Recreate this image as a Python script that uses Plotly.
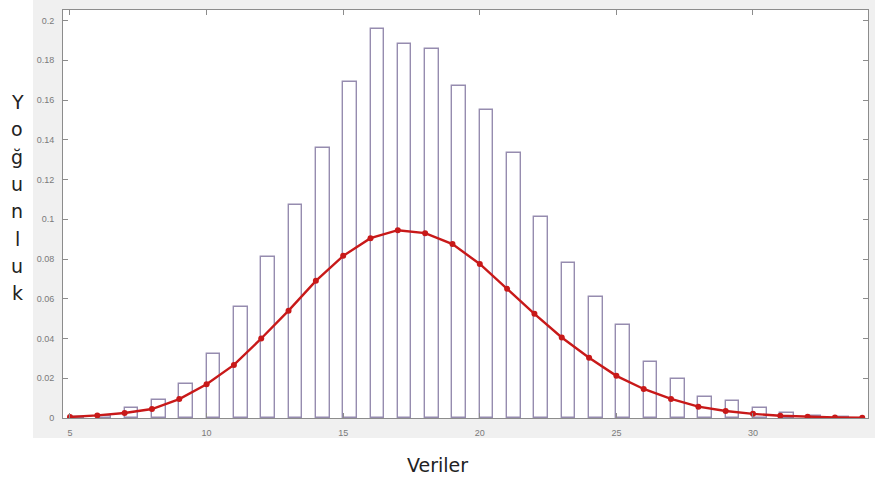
import plotly.graph_objects as go

# ---- data ----
bin_centers = [5.25, 6.25, 7.25, 8.25, 9.25, 10.25, 11.25, 12.25, 13.25, 14.25,
               15.25, 16.25, 17.25, 18.25, 19.25, 20.25, 21.25, 22.25, 23.25, 24.25,
               25.25, 26.25, 27.25, 28.25, 29.25, 30.25, 31.25, 32.25, 33.25]
bar_density = [0.0003, 0.0008, 0.005, 0.009, 0.017, 0.032, 0.056, 0.081, 0.107, 0.136,
               0.169, 0.1955, 0.188, 0.1855, 0.167, 0.155, 0.1335, 0.101, 0.078, 0.061,
               0.047, 0.028, 0.0196, 0.0106, 0.0086, 0.005, 0.0025, 0.0012, 0.0005]

curve_x = [5, 6, 7, 8, 9, 10, 11, 12, 13, 14, 15, 16, 17, 18, 19, 20, 21, 22, 23, 24,
           25, 26, 27, 28, 29, 30, 31, 32, 33, 34]
curve_y = [0.0005, 0.0013, 0.0025, 0.0045, 0.0095, 0.017, 0.0267, 0.040, 0.054, 0.069,
           0.0816, 0.0905, 0.0945, 0.093, 0.0875, 0.0775, 0.065, 0.0524, 0.0405, 0.0303,
           0.0212, 0.0146, 0.0096, 0.0057, 0.0035, 0.0021, 0.0011, 0.0006, 0.0003, 0.0001]

x_tick_vals = [5, 10, 15, 20, 25, 30]
x_tick_text = ["5", "10", "15", "20", "25", "30"]
y_tick_vals = [0, 0.02, 0.04, 0.06, 0.08, 0.1, 0.12, 0.14, 0.16, 0.18, 0.2]
y_tick_text = ["0", "0.02", "0.04", "0.06", "0.08", "0.1", "0.12", "0.14", "0.16", "0.18", "0.2"]

y_title_letters = ["Y", "o", "ğ", "u", "n", "l", "u", "k"]
x_title = "Veriler"

# ---- layout geometry (pixels) ----
W, H = 875, 483
ML, MR, MT, MB = 63, 7, 10, 65
PW = W - ML - MR
PH = H - MT - MB


def px_x(px):
    return (px - ML) / PW


def px_y(py):
    return (H - MB - py) / PH


fig = go.Figure()

fig.add_trace(go.Bar(
    x=bin_centers, y=bar_density, width=0.5,
    marker=dict(color="white", line=dict(color="rgb(150,140,175)", width=1.4)),
    showlegend=False, hoverinfo="x+y",
))

fig.add_trace(go.Scatter(
    x=curve_x, y=curve_y, mode="lines+markers",
    line=dict(color="rgb(200,25,25)", width=2.4),
    marker=dict(color="rgb(200,25,25)", size=6, symbol="circle"),
    showlegend=False,
))

shapes = [
    dict(type="rect", xref="paper", yref="paper", layer="below",
         x0=px_x(33), x1=px_x(W + 5), y0=px_y(438), y1=px_y(-5),
         fillcolor="#f0f0f0", line=dict(width=0)),
    dict(type="rect", xref="paper", yref="paper", layer="below",
         x0=0, x1=1, y0=0, y1=1, fillcolor="white", line=dict(width=0)),
]

annotations = []
start_y = 102
step_y = 27.3
for i, ch in enumerate(y_title_letters):
    annotations.append(dict(
        text=ch, xref="paper", yref="paper", x=px_x(17), y=px_y(start_y + i * step_y),
        xanchor="center", yanchor="middle", showarrow=False,
        font=dict(family="DejaVu Sans", size=19, color="#222222"),
    ))
annotations.append(dict(
    text=x_title, xref="paper", yref="paper", x=px_x(437), y=px_y(465),
    xanchor="center", yanchor="middle", showarrow=False,
    font=dict(family="DejaVu Sans", size=19, color="#222222"),
))

axis_common = dict(
    showgrid=False, zeroline=False, showline=True, linecolor="#8c8c8c", linewidth=1,
    mirror="ticks", ticks="inside", ticklen=5, tickcolor="#8c8c8c",
    tickfont=dict(family="Liberation Sans, Arial", size=9, color="#7a7a7a"),
)

fig.update_layout(
    width=W, height=H,
    margin=dict(l=ML, r=MR, t=MT, b=MB, pad=0),
    paper_bgcolor="white", plot_bgcolor="white",
    shapes=shapes, annotations=annotations,
    bargap=0,
    xaxis=dict(range=[4.744, 34.21], tickmode="array", tickvals=x_tick_vals,
               ticktext=x_tick_text, ticklabelstandoff=6, **axis_common),
    yaxis=dict(range=[0, 0.2053], tickmode="array", tickvals=y_tick_vals,
               ticktext=y_tick_text, ticklabelstandoff=6, **axis_common),
)

fig.write_html("out.html")
